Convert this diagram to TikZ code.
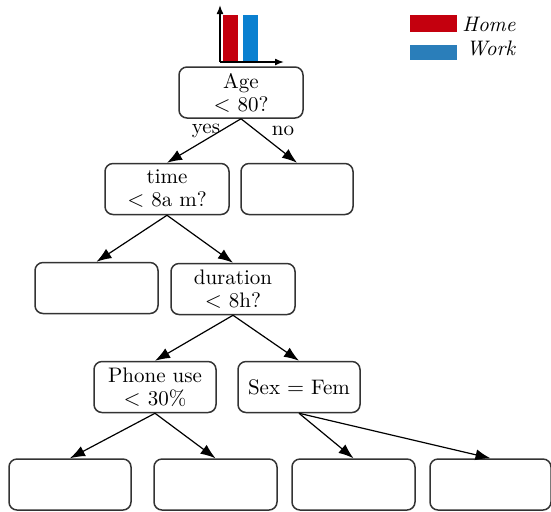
\documentclass[tikz,border=0pt]{standalone}
\usetikzlibrary{arrows.meta}
\definecolor{homered}{RGB}{196,0,14}
\definecolor{workblue}{RGB}{10,128,208}
\definecolor{legblue}{RGB}{42,126,186}
\begin{document}
\begin{tikzpicture}[x=0.5pt,y=-0.5pt,
  box/.style={draw=black!80,line width=0.75pt,rounded corners=4pt,
    minimum height=25.5pt,align=center,inner sep=1pt,
    font=\fontsize{10.5}{11.5}\selectfont},
  edge/.style={line width=0.6pt,-{Latex[length=7.5pt,width=5.5pt]}},
  axis/.style={line width=0.75pt,-{Latex[length=4.5pt,width=3.5pt]}},
  lbl/.style={font=\fontsize{10.5}{12}\selectfont,inner sep=0pt}]
\useasboundingbox (0,0) rectangle (551,511);

% bar chart above the root
\fill[homered] (223,15) rectangle (238,62);
\fill[workblue] (243,15) rectangle (258,62);
\coordinate (origin) at (220,62);
\coordinate (ytop) at (220,5);
\coordinate (xend) at (284,62);
\draw[axis] (origin) -- (ytop);
\draw[axis] (origin) -- (xend);

% legend
\fill[homered] (410,15) rectangle (457,32);
\fill[legblue] (410,45) rectangle (457,60);
\node[lbl,anchor=west] (home) at (462,24) {\itshape Home};
\node[lbl,anchor=west] (work) at (466,48) {\itshape Work};

% tree nodes
\node[box,minimum width=62pt] (age) at (241,92.5) {Age\\ $<$ 80?};
\node[box,minimum width=62pt] (time) at (167,189) {time\\ $<$ 8a m?};
\node[box,minimum width=56pt] (r1) at (297,189) {};
\node[box,minimum width=61.5pt] (l1) at (96.5,288) {};
\node[box,minimum width=62pt] (dur) at (233,289) {duration\\ $<$ 8h?};
\node[box,minimum width=61pt] (phone) at (155,387) {Phone use\\ $<$ 30\%};
\node[box,minimum width=61pt] (sex) at (299,387) {Sex $=$ Fem};
\node[box,minimum width=61pt] (b1) at (70,484.5) {};
\node[box,minimum width=61.5pt] (b2) at (215.5,484.5) {};
\node[box,minimum width=61.5pt] (b3) at (353.5,484.5) {};
\node[box,minimum width=60.5pt] (b4) at (490.5,484.5) {};

% connectors
\draw[edge] (age.south) -- (time.north);
\draw[edge] (age.south) -- (r1.north);
\node[lbl] (yes) at (206,131) {yes};
\node[lbl] (no) at (283,131) {no};
\draw[edge] (time.south) -- (l1.north);
\draw[edge] (time.south) -- (dur.north);
\draw[edge] (dur.south) -- (phone.north);
\draw[edge] (dur.south) -- (sex.north);
\draw[edge] (phone.south) -- (b1.north);
\draw[edge] (phone.south) -- (b2.north);
\draw[edge] (sex.south) -- (b3.north);
\draw[edge] (sex.south) -- (b4.north);
\end{tikzpicture}
\end{document}
